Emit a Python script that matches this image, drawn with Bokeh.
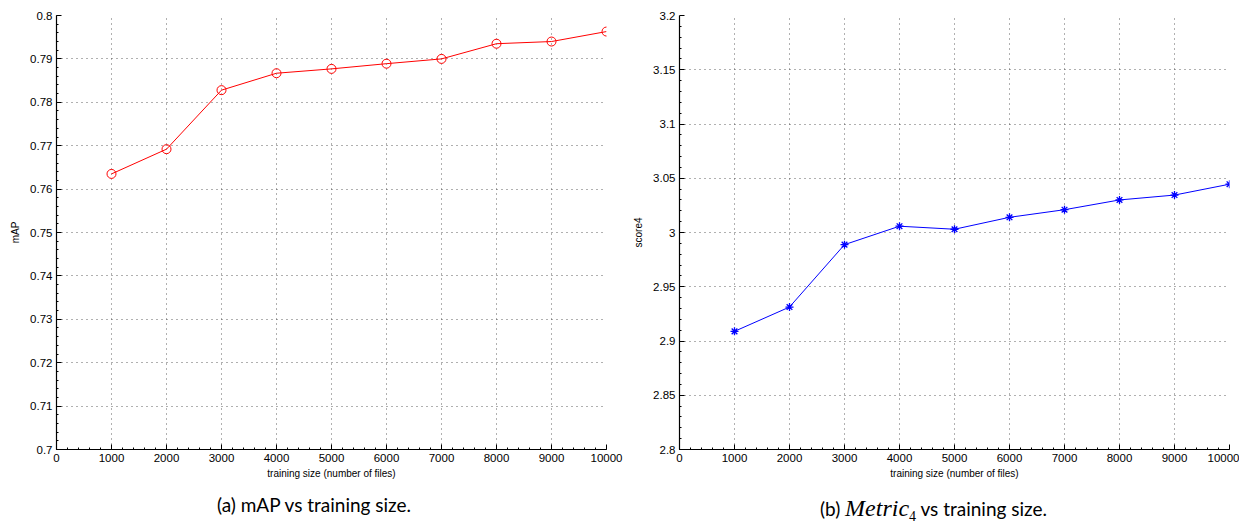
from bokeh.plotting import figure
from bokeh.models import Range1d, FixedTicker, CustomJSTickFormatter, Div
from bokeh.layouts import row, column
from bokeh.embed import file_html
from bokeh.resources import INLINE

# ---- data ----
train_size = [1000, 2000, 3000, 4000, 5000, 6000, 7000, 8000, 9000, 10000]
map_vals = [0.7635, 0.7692, 0.7828, 0.7867, 0.7877, 0.7889, 0.7900, 0.7935, 0.7940, 0.7963]
score4_vals = [2.9089, 2.9313, 2.9888, 3.0058, 3.0030, 3.0140, 3.0210, 3.0300, 3.0345, 3.0445]

x_ticks = [0, 1000, 2000, 3000, 4000, 5000, 6000, 7000, 8000, 9000, 10000]
map_ticks = [0.7, 0.71, 0.72, 0.73, 0.74, 0.75, 0.76, 0.77, 0.78, 0.79, 0.8]
score_ticks = [2.8, 2.85, 2.9, 2.95, 3.0, 3.05, 3.1, 3.15, 3.2]

x_label = "training size (number of files)"
left_ylabel = "mAP"
right_ylabel = "score4"

FMT = CustomJSTickFormatter(code="return String(tick)")


def style(p, yticks, ylabel):
    p.outline_line_color = None
    p.background_fill_color = "white"
    p.border_fill_color = "white"
    p.xaxis.ticker = FixedTicker(ticks=x_ticks, minor_ticks=list(range(0, 10001, 200)))
    p.yaxis.ticker = FixedTicker(ticks=yticks,
                                 minor_ticks=[yticks[0] + i * (yticks[1] - yticks[0]) / 5
                                              for i in range(5 * (len(yticks) - 1) + 1)])
    for ax in (p.xaxis[0], p.yaxis[0]):
        ax.formatter = FMT
        ax.axis_line_color = "black"
        ax.axis_line_width = 1.2
        ax.major_tick_in = 5
        ax.major_tick_out = 0
        ax.minor_tick_in = 2
        ax.minor_tick_out = 0
        ax.major_tick_line_color = "black"
        ax.minor_tick_line_color = "black"
        ax.major_label_text_font = "Liberation Sans"
        ax.major_label_text_font_size = "11.5px"
        ax.major_label_text_color = "black"
        ax.axis_label_text_font = "Liberation Sans"
        ax.axis_label_text_font_size = "10px"
        ax.axis_label_text_font_style = "normal"
        ax.axis_label_text_color = "black"
    p.xaxis.axis_label = x_label
    p.xaxis.major_label_standoff = 4
    p.xaxis.axis_label_standoff = 3
    p.yaxis.axis_label = ylabel
    p.yaxis.major_label_standoff = 4
    p.yaxis.axis_label_standoff = 6
    for g in (p.xgrid[0], p.ygrid[0]):
        g.ticker = p.xaxis.ticker if g is p.xgrid[0] else p.yaxis.ticker
        g.grid_line_color = "#444444"
        g.grid_line_alpha = 0.85
        g.grid_line_dash = "1 4"
        g.grid_line_width = 1


p1 = figure(width=628, height=488, output_backend="svg", toolbar_location=None,
            x_range=Range1d(0, 10000), y_range=Range1d(0.7, 0.8),
            min_border_left=56, min_border_right=22, min_border_top=15, min_border_bottom=39)
style(p1, map_ticks, left_ylabel)
p1.line(train_size, map_vals, line_color="red", line_width=1)
p1.scatter(train_size, map_vals, marker="circle", size=9, fill_color=None,
           line_color="red", line_width=1)

p2 = figure(width=611, height=488, output_backend="svg", toolbar_location=None,
            x_range=Range1d(0, 10000), y_range=Range1d(2.8, 3.2),
            min_border_left=51, min_border_right=10, min_border_top=15, min_border_bottom=39)
style(p2, score_ticks, right_ylabel)
p2.line(train_size, score4_vals, line_color="blue", line_width=1)
p2.scatter(train_size, score4_vals, marker="asterisk", size=8, line_color="blue", line_width=1.3)

cap_style = {"font-family": "Lato", "font-size": "19px", "color": "black",
             "text-align": "center", "width": "100%", "margin-top": "3px"}
cap1 = Div(text="(a) mAP vs training size.", width=612, height=35, margin=(0, 0, 0, 0),
           styles=cap_style)
cap2 = Div(text="(b) <span style=\"font-family:'Liberation Serif';font-style:italic;font-size:24px\">Metric</span>"
                "<sub style=\"font-family:'Liberation Serif';font-size:14px\">4</sub> vs training size.",
           width=611, height=35, margin=(0, 0, 0, 0), styles=cap_style)

layout = row(column(p1, cap1), column(p2, cap2))
open("out.html", "w").write(file_html(layout, INLINE))
